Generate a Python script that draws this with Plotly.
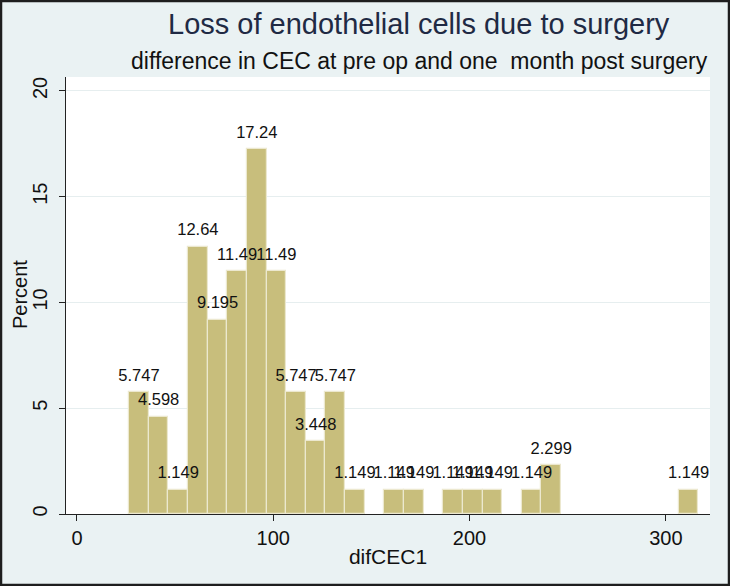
import plotly.graph_objects as go

# Histogram of difCEC1 (bin width 10)
bin_centers = [31.6, 41.6, 51.6, 61.6, 71.6, 81.6, 91.6, 101.6, 111.6, 121.6, 131.6, 141.6,
               161.6, 171.6, 191.6, 201.6, 211.6, 231.6, 241.6, 311.6]
percent = [5.747, 4.598, 1.149, 12.64, 9.195, 11.49, 17.24, 11.49, 5.747, 3.448, 5.747, 1.149,
           1.149, 1.149, 1.149, 1.149, 1.149, 1.149, 2.299, 1.149]
labels = ["5.747", "4.598", "1.149", "12.64", "9.195", "11.49", "17.24", "11.49", "5.747", "3.448",
          "5.747", "1.149", "1.149", "1.149", "1.149", "1.149", "1.149", "1.149", "2.299", "1.149"]
bin_width = 10
x_ticks = [0, 100, 200, 300]
y_ticks = [0, 5, 10, 15, 20]

title_text = "Loss of endothelial cells due to surgery"
subtitle_text = "difference in CEC at pre op and one  month post surgery"

W, H = 730, 586
L, R, T, B = 66, 20, 77, 72
pw, ph = W - L - R, H - T - B

FONT = "Liberation Sans, Arial, sans-serif"

fig = go.Figure()
fig.add_trace(go.Bar(
    x=bin_centers, y=percent, width=bin_width,
    marker=dict(color="#C8BE7C", line=dict(color="#ECE8CF", width=1.2)),
    hoverinfo="skip",
))
fig.add_trace(go.Scatter(
    x=bin_centers, y=percent, mode="markers+text", text=labels, textposition="top center",
    marker=dict(size=10, opacity=0),
    textfont=dict(family=FONT, size=16.5, color="#111111"),
    cliponaxis=False, hoverinfo="skip",
))

def px_x(p):
    return (p - L) / pw

def px_y(p):
    return (H - B - p) / ph

fig.update_layout(
    width=W, height=H,
    margin=dict(l=L, r=R, t=T, b=B),
    paper_bgcolor="#EAF2F3", plot_bgcolor="#FFFFFF",
    showlegend=False, bargap=0,
    font=dict(family=FONT, color="#111111"),
    xaxis=dict(
        range=[-5.6, 322.5], tickvals=x_ticks, ticks="outside", ticklen=6,
        tickcolor="#222222", showline=True, linecolor="#222222", linewidth=1,
        showgrid=False, zeroline=False, tickfont=dict(size=20, family=FONT),
        automargin=False,
        title=dict(text="difCEC1", font=dict(size=21, family=FONT), standoff=1),
    ),
    yaxis=dict(
        range=[0, 20.66], tickvals=y_ticks, ticks="outside", ticklen=6,
        tickcolor="#222222", showline=True, linecolor="#222222", linewidth=1,
        showgrid=True, gridcolor="#E6EEEF", gridwidth=1, zeroline=False,
        tickangle=-90, tickfont=dict(size=20, family=FONT), ticklabelstandoff=4,
        automargin=False,
    ),
    annotations=[
        dict(text=title_text, xref="paper", yref="paper", x=px_x(419), y=px_y(24),
             xanchor="center", yanchor="middle", showarrow=False,
             font=dict(size=29, family=FONT, color="#1F2A44")),
        dict(text=subtitle_text, xref="paper", yref="paper", x=px_x(419), y=px_y(61),
             xanchor="center", yanchor="middle", showarrow=False,
             font=dict(size=23, family=FONT, color="#111111")),
        dict(text="Percent", xref="paper", yref="paper", x=px_x(20), y=px_y(295),
             xanchor="center", yanchor="middle", showarrow=False, textangle=-90,
             font=dict(size=20, family=FONT, color="#111111")),
    ],
    shapes=[
        dict(type="rect", xref="paper", yref="paper",
             x0=px_x(1), x1=px_x(W - 1), y0=px_y(H - 1), y1=px_y(1),
             line=dict(color="#1E1E1E", width=2.5), fillcolor="rgba(0,0,0,0)", layer="above"),
    ],
)

fig.write_html("out.html", config={"displayModeBar": False},
               post_script="document.body.style.margin='0px';")
